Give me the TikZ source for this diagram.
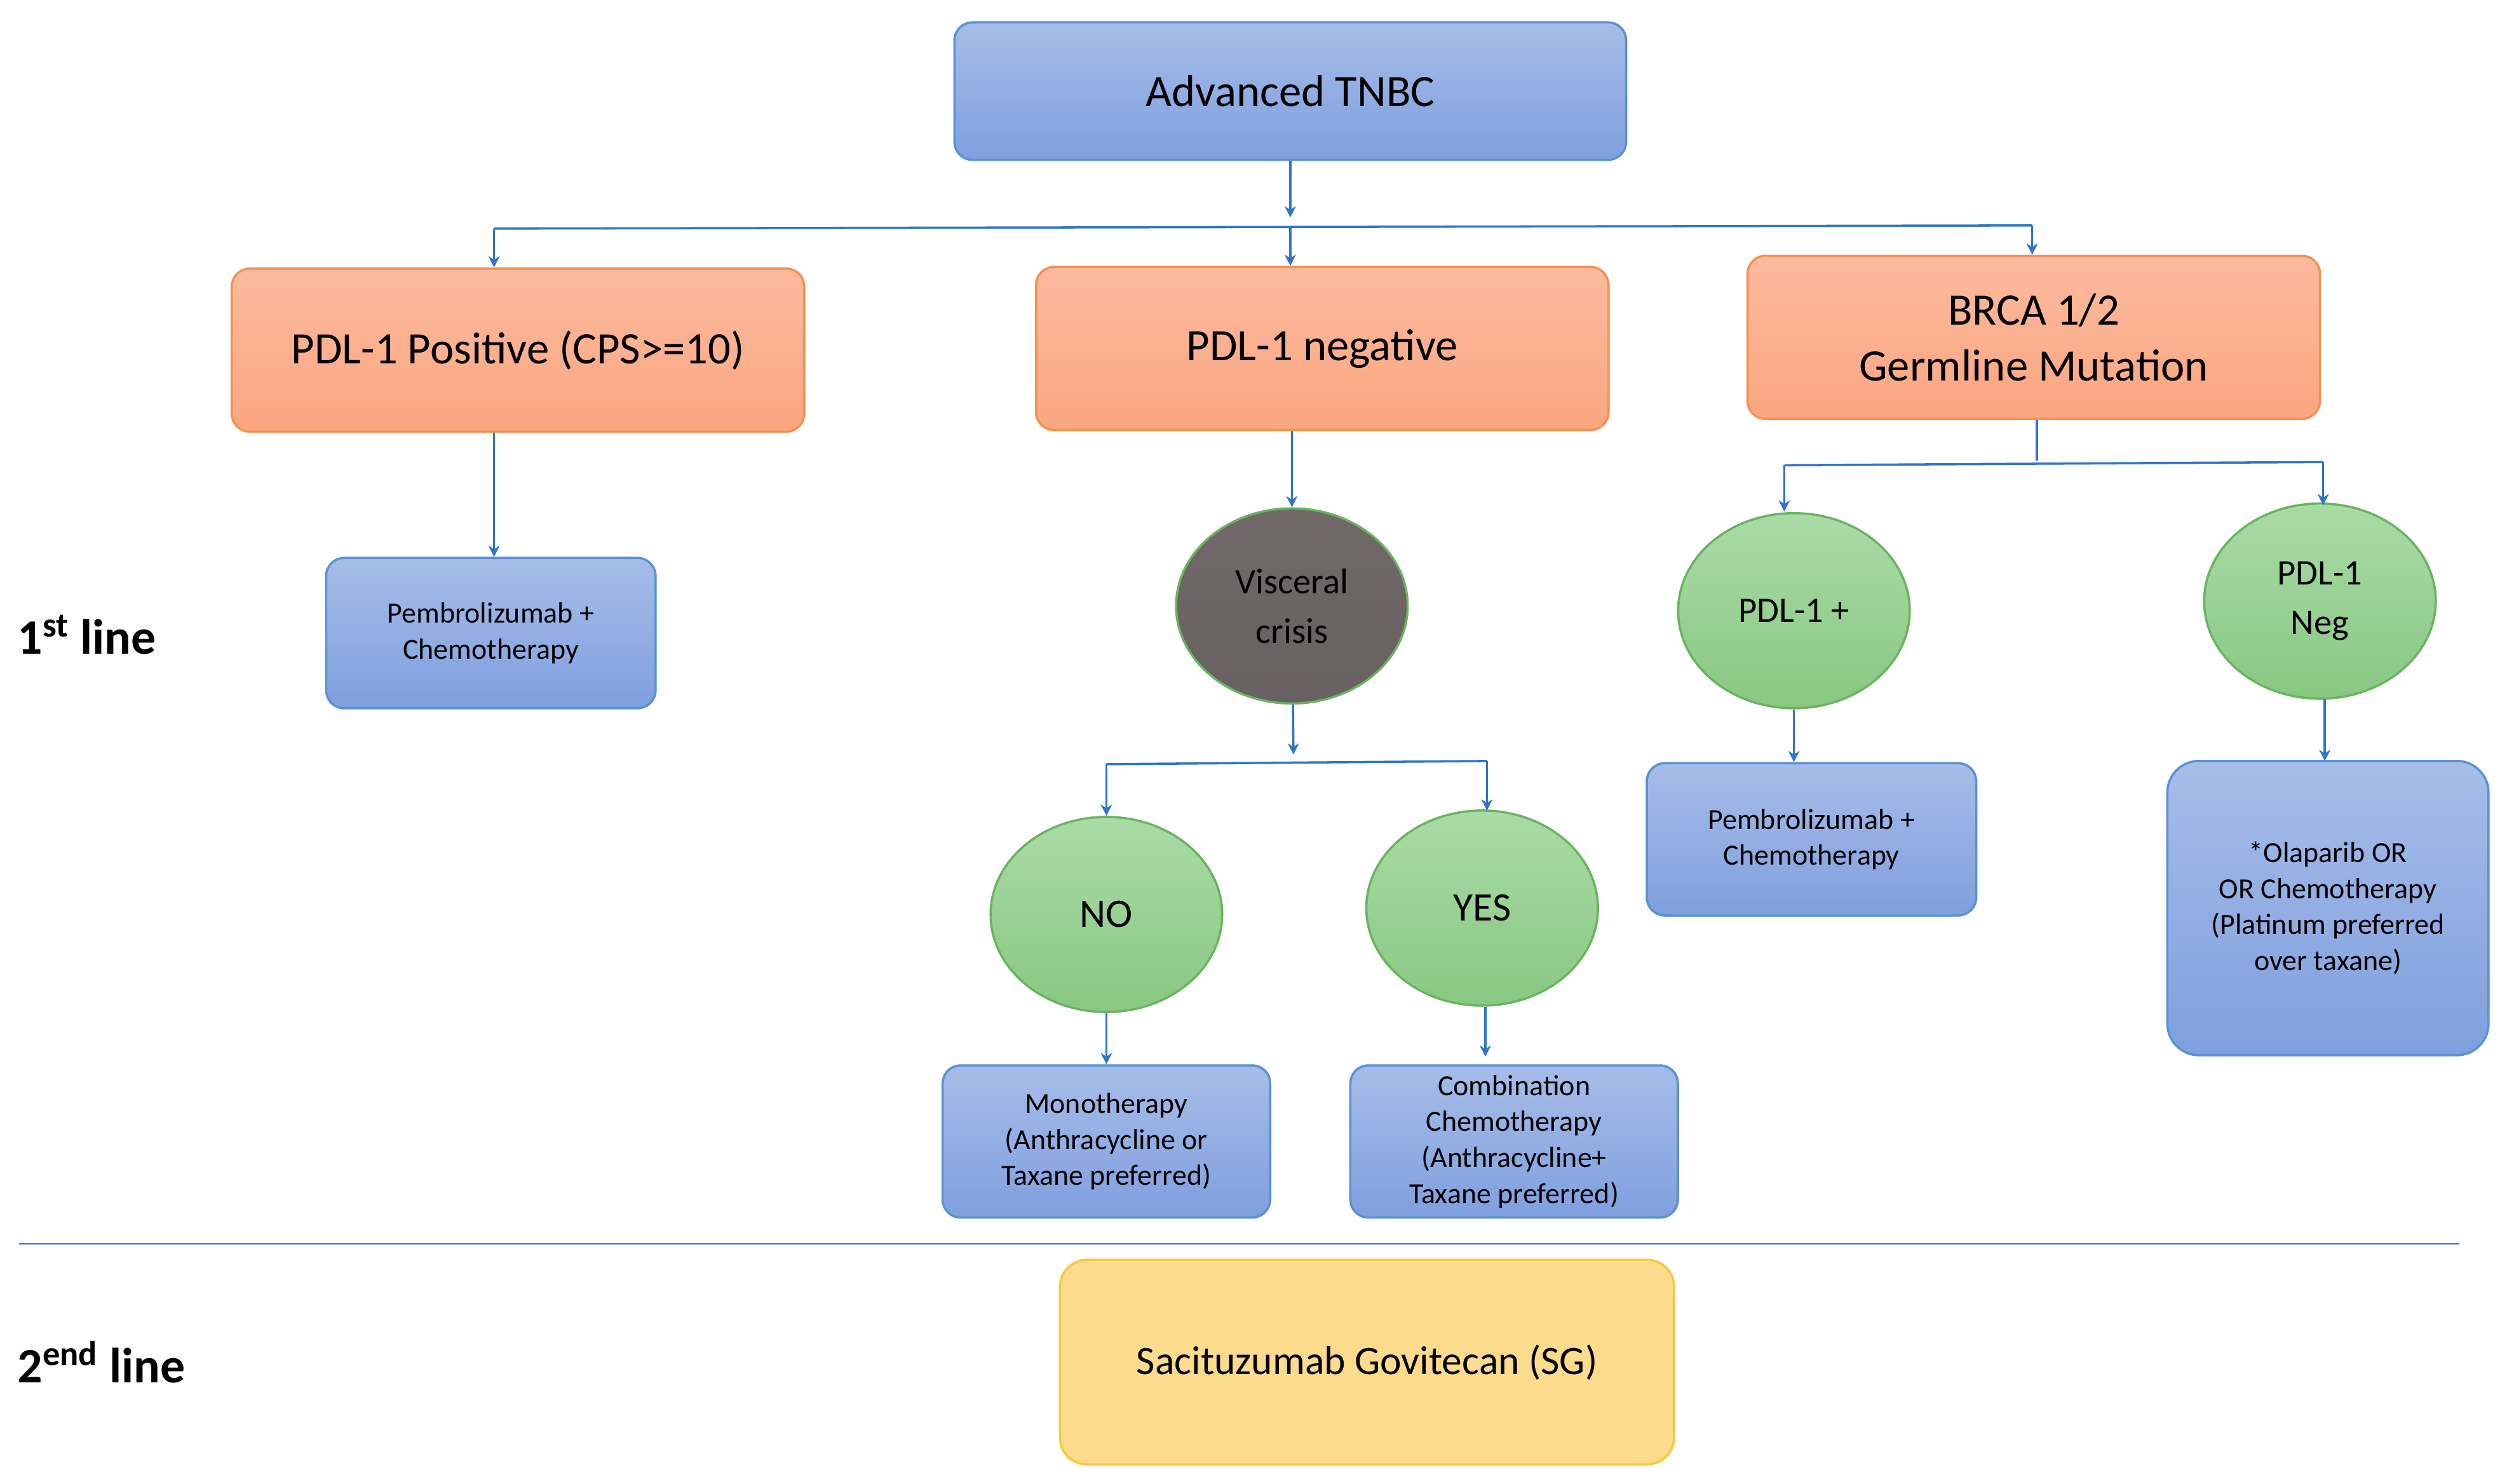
\documentclass[tikz,border=0pt]{standalone}
\usepackage{fontspec}
\setmainfont{Carlito}
\usetikzlibrary{arrows.meta,shapes.geometric}
\definecolor{arrowblue}{HTML}{2F75C9}
\tikzset{
  box/.style={rectangle,rounded corners=8pt,draw,line width=1pt,align=center},
  blue box/.style={box,draw=arrowblue!80,top color=blue!25!cyan!10!white!75!blue,bottom color=blue!40!white,
    top color={rgb,255:red,166;green,189;blue,232},bottom color={rgb,255:red,127;green,159;blue,222}},
  orange box/.style={box,draw={rgb,255:red,245;green,144;blue,79},
    top color={rgb,255:red,252;green,186;blue,158},bottom color={rgb,255:red,250;green,166;blue,128},font=\fontsize{20}{25}\selectfont},
  round node/.style={ellipse,draw={rgb,255:red,105;green,180;blue,95},line width=1pt,minimum width=3.62cm,minimum height=3.05cm,
    top color={rgb,255:red,170;green,219;blue,166},bottom color={rgb,255:red,136;green,200;blue,130},align=center,font=\fontsize{16}{22}\selectfont},
  small/.style={font=\fontsize{13}{16}\selectfont},
  link/.style={draw=arrowblue,line width=1pt,-{Stealth[length=5pt,width=5pt]}},
  bus/.style={draw=arrowblue,line width=1pt}
}
\begin{document}
\begin{tikzpicture}[x=0.025cm,y=-0.025cm]
\useasboundingbox (0,0) rectangle (1568,928);

% top row
\node[blue box,minimum width=10.5cm,minimum height=2.15cm,font=\fontsize{20}{25}\selectfont] (tnbc) at (807,57) {Advanced TNBC};
\node[orange box,minimum width=8.95cm,minimum height=2.55cm] (pos) at (324,219) {PDL-1 Positive (CPS>=10)};
\node[orange box,minimum width=8.95cm,minimum height=2.55cm] (neg) at (827,218) {PDL-1 negative};
\node[orange box,minimum width=8.95cm,minimum height=2.55cm] (brca) at (1272,211) {BRCA 1/2\\Germline Mutation};

% second level
\node[blue box,small,minimum width=5.15cm,minimum height=2.35cm] (pembroA) at (307,396) {Pembrolizumab +\\Chemotherapy};
\node[round node,top color={rgb,255:red,112;green,104;blue,105},bottom color={rgb,255:red,104;green,96;blue,97}] (visc) at (808,379) {Visceral\\crisis};
\node[round node] (pplus) at (1122,382) {PDL-1 +};
\node[round node] (pneg) at (1451,376) {PDL-1\\Neg};
\node[round node,font=\fontsize{18}{22}\selectfont] (no) at (692,572) {NO};
\node[round node,font=\fontsize{18}{22}\selectfont] (yes) at (927,568) {YES};
\node[blue box,small,minimum width=5.15cm,minimum height=2.38cm] (pembroB) at (1133,525) {Pembrolizumab +\\Chemotherapy};
\node[blue box,small,rounded corners=14pt,minimum width=5.02cm,minimum height=4.6cm] (olap) at (1456,568) {*Olaparib OR\\OR Chemotherapy\\(Platinum preferred\\over taxane)};
\node[blue box,small,minimum width=5.12cm,minimum height=2.38cm] (mono) at (692,714) {Monotherapy\\(Anthracycline or\\Taxane preferred)};
\node[blue box,small,minimum width=5.12cm,minimum height=2.38cm] (combo) at (947,714) {Combination\\Chemotherapy\\(Anthracycline+\\Taxane preferred)};

% second line
\node[box,rounded corners=12pt,draw={rgb,255:red,249;green,199;blue,68},fill={rgb,255:red,253;green,219;blue,140},
  minimum width=9.6cm,minimum height=3.2cm,font=\fontsize{18}{22}\selectfont] (sg) at (855,852) {Sacituzumab Govitecan (SG)};
\coordinate (sepL) at (12,778);
\coordinate (sepR) at (1538,778);
\draw[draw=arrowblue,line width=0.8pt] (sepL) -- (sepR);
\node[anchor=west,font=\fontsize{22}{26}\selectfont\bfseries] (first) at (6,397) {1\textsuperscript{st} line};
\node[anchor=west,font=\fontsize{22}{26}\selectfont\bfseries] (second) at (6,852) {2\textsuperscript{end} line};

% connectors
\coordinate (b1) at (807,136);
\coordinate (b1L) at (309,143);
\coordinate (b1R) at (1271,141);
\draw[link] (tnbc) -- (b1);
\draw[bus] (b1L) -- (b1R);
\draw[link] (b1L) -- (pos.north -| b1L);
\draw[link] (807,142) -- (neg.north -| b1);
\draw[link] (b1R) -- (brca.north -| b1R);
\draw[link] (pos.south -| b1L) -- (pembroA.north -| b1L);
\draw[link] (neg.south -| visc) -- (visc);

\coordinate (b2) at (1274,288);
\coordinate (b2L) at (1116,291);
\coordinate (b2R) at (1453,289);
\draw[bus] (brca.south -| b2) -- (b2);
\draw[bus] (b2L) -- (b2R);
\draw[link] (b2L) -- (1116,320);
\draw[link] (b2R) -- (1453,316);
\draw[link] (pplus) -- (pplus |- pembroB.north);
\draw[link] (1454,437) -- (1454,476);

\coordinate (b3) at (809,472);
\coordinate (b3L) at (692,478);
\coordinate (b3R) at (930,476);
\draw[link] (visc) -- (b3);
\draw[bus] (b3L) -- (b3R);
\draw[link] (b3L) -- (no.north -| b3L);
\draw[link] (b3R) -- (930,507);
\draw[link] (no) -- (mono);
\draw[link] (929,630) -- (929,661);
\end{tikzpicture}
\end{document}
